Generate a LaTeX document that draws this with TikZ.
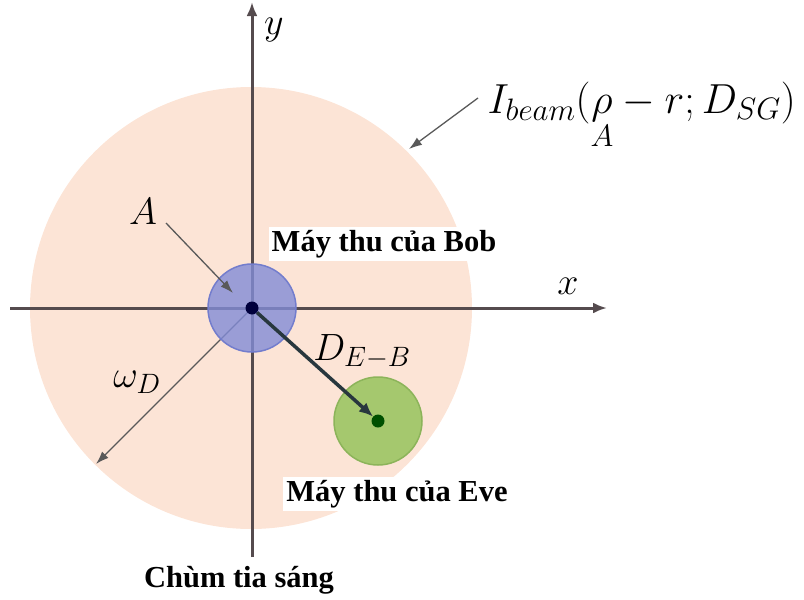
\RequirePackage{fix-cm}
\documentclass[tikz,border=0pt]{standalone}
\usepackage{amsmath}
\usepackage{fontspec}
\setmainfont{Liberation Serif}
\usetikzlibrary{arrows.meta}
\DeclareMathSizes{42}{42}{31}{24}
\DeclareMathSizes{38}{38}{28}{21}

\definecolor{beampink}{RGB}{252,228,214}
\definecolor{axisgray}{RGB}{85,75,78}
\definecolor{bobblue}{RGB}{130,140,215}
\definecolor{bobedge}{RGB}{115,125,205}
\definecolor{evegreen}{RGB}{165,200,110}
\definecolor{eveedge}{RGB}{140,180,90}
\definecolor{linkdark}{RGB}{40,55,62}

\begin{document}
\begin{tikzpicture}[x=1pt, y=-1pt,
		axis/.style={draw=axisgray, line width=3pt, -{Latex[length=14pt,width=11pt]}},
		rx/.style={circle, minimum size=88pt, inner sep=0pt, line width=1.5pt},
		dot/.style={circle, minimum size=13pt, inner sep=0pt},
		pointer/.style={draw=black!65, line width=1.3pt, -{Latex[length=13pt,width=9pt]}},
		mlabel/.style={font=\fontsize{38}{42}\selectfont},
		biglabel/.style={font=\fontsize{42}{46}\selectfont},
		tlabel/.style={font=\fontsize{30.5}{34}\selectfont\bfseries, fill=white, inner sep=3pt}]
		
		\useasboundingbox (0,0) rectangle (804,600);
		
		\node[circle, fill=beampink, minimum size=442pt, inner sep=0pt] (beam) at (251,308) {};
		
		\coordinate (xl) at (10,308);
		\coordinate (xr) at (607,308);
		\coordinate (yb) at (252,557);
		\coordinate (yt) at (252,2);
		\draw[axis] (xl) -- (xr);
		\draw[axis] (yb) -- (yt);
		
		\coordinate (bobc0) at (252,308);
		\coordinate (wtip) at (96,464);
		\draw[pointer] (bobc0) -- (wtip);
		
		\node[rx, fill=bobblue, fill opacity=0.8, draw=bobedge] (bob) at (252,308) {};
		\node[rx, fill=evegreen, draw=eveedge] (eve) at (378,421) {};
		
		\node[dot, fill=black!20!blue!30!black] (bobc) at (252,308) {};
		\node[dot, fill=black!30!green!45!black] (evec) at (378,421) {};
		
		\draw[draw=linkdark, line width=3.5pt, -{Latex[length=14pt,width=12pt]}] (bobc) -- (evec);
		
		\node[mlabel] (ylab) at (274,30) {$y$};
		\node[mlabel] (xlab) at (568,286) {$x$};
		\node[mlabel] (alab) at (143,212) {$A$};
		\node[mlabel] (wlab) at (137,382) {$\omega_D$};
		\node[mlabel] (dlab) at (362,352) {$D_{E-B}$};
		\node[biglabel, anchor=base west] (ibeam) at (484,113) {$I_{beam}(\underset{A}{\rho} - r; D_{SG})$};
		
		\coordinate (atail) at (166,223);
		\coordinate (atip) at (233,293);
		\draw[pointer] (atail) -- (atip);
		\coordinate (itail) at (478,98);
		\coordinate (itip) at (409,149);
		\draw[pointer] (itail) -- (itip);
		
		\node[tlabel] (boblab) at (384,244) {Máy thu của Bob};
		\node[tlabel] (evelab) at (397,494) {Máy thu của Eve};
		\node[tlabel] (chum) at (239,580) {Chùm tia sáng};
		
	\end{tikzpicture}
\end{document}
